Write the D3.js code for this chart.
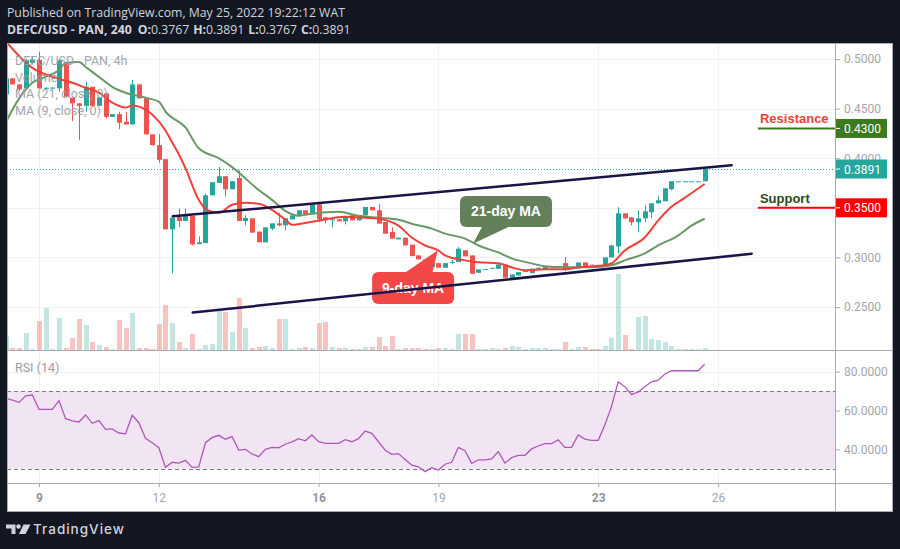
<!DOCTYPE html>
<html>
<head>
<meta charset="utf-8">
<script src="https://cdnjs.cloudflare.com/ajax/libs/d3/7.8.5/d3.min.js"></script>
<style>
    html, body { margin: 0; padding: 0; background: #131722; }
    svg { display: block; }
    text { font-family: Roboto, "Noto Sans", sans-serif; }
</style>
</head>
<body>
<svg id="chart" width="900" height="549"></svg>
<script>
// 4h bars, index 0 = May 9 00:00 UTC; the first bar on screen is index -5
const firstIndex = -5;
const opens = [
    .4643, .4805, .4744, .4704, .4960, .4990, .4700, .4705, .4704, .4960,
    .4610, .4553, .4528, .4720, .4528, .4653, .4417, .4444, .4367, .4340,
    .4744, .4603, .4240, .4131, .3990, .3283, .3407, .3367, .3417, .3134,
    .3144, .3626, .3751, .3818, .3687, .3800, .3367, .3394, .3260, .3152,
    .3290, .3343, .3323, .3384, .3417, .3475, .3434, .3535, .3404, .3374,
    .3384, .3364, .3424, .3374, .3424, .3508, .3475, .3357, .3256, .3182,
    .3199, .3128, .3020, .2980, .2902, .2942, .2896, .2950, .2953, .3071,
    .3020, .2845, .2875, .2885, .2886, .2929, .2795, .2818, .2855, .2842,
    .2892, .2879, .2902, .2908, .2942, .2896, .2889, .2949, .2926, .2925,
    .2909, .3000, .3111, .3444, .3404, .3354, .3394, .3455, .3545, .3566,
    .3687, .3767, .3767, .3767, .3767, .3767];
const highs = [
    .4805, .4805, .4744, .5000, .5030, .5074, .4715, .4715, .4995, .4965,
    .4610, .4553, .4771, .4720, .4613, .4653, .4444, .4468, .4468, .4788,
    .4744, .4603, .4240, .4242, .3990, .3401, .3492, .3492, .3417, .3212,
    .3646, .3758, .3912, .3818, .3768, .3879, .3424, .3394, .3260, .3303,
    .3343, .3447, .3394, .3424, .3475, .3475, .3535, .3556, .3404, .3384,
    .3384, .3414, .3424, .3424, .3508, .3508, .3535, .3357, .3303, .3199,
    .3199, .3128, .3020, .2980, .2942, .2942, .2942, .2975, .3104, .3071,
    .3020, .2879, .2885, .2895, .2929, .2929, .2828, .2852, .2862, .2886,
    .2899, .2909, .2908, .2915, .3003, .2902, .2949, .2949, .2926, .2925,
    .3000, .3121, .3505, .3444, .3404, .3475, .3525, .3545, .3616, .3697,
    .3767, .3767, .3767, .3767, .3767, .3891];
const lows = [
    .4643, .4744, .4677, .4704, .4950, .4704, .4690, .4700, .4670, .4620,
    .4374, .4182, .4468, .4528, .4528, .4400, .4417, .4293, .4340, .4340,
    .4603, .4240, .4131, .3953, .3283, .2841, .3306, .3367, .3121, .3134,
    .3144, .3626, .3751, .3613, .3687, .3367, .3323, .3250, .3152, .3152,
    .3273, .3313, .3273, .3384, .3417, .3430, .3434, .3354, .3343, .3303,
    .3364, .3333, .3374, .3374, .3424, .3475, .3340, .3239, .3189, .3182,
    .3121, .3013, .2980, .2902, .2902, .2896, .2896, .2935, .2953, .3010,
    .2835, .2845, .2875, .2885, .2886, .2795, .2795, .2818, .2855, .2842,
    .2890, .2879, .2902, .2905, .2862, .2896, .2889, .2909, .2922, .2922,
    .2909, .3000, .3040, .3384, .3323, .3253, .3354, .3394, .3545, .3566,
    .3677, .3767, .3767, .3767, .3767, .3767];
const closes = [
    .4805, .4744, .4694, .4990, .4995, .4704, .4710, .4712, .4985, .4620,
    .4553, .4528, .4720, .4528, .4613, .4417, .4444, .4357, .4340, .4744,
    .4603, .4240, .4131, .3984, .3283, .3401, .3367, .3417, .3131, .3152,
    .3626, .3758, .3818, .3687, .3768, .3367, .3397, .3250, .3152, .3303,
    .3343, .3323, .3394, .3424, .3475, .3430, .3535, .3384, .3374, .3384,
    .3364, .3414, .3374, .3424, .3508, .3475, .3340, .3239, .3189, .3199,
    .3121, .3013, .2980, .2902, .2942, .2896, .2942, .2955, .3088, .3010,
    .2835, .2879, .2882, .2895, .2929, .2795, .2828, .2852, .2862, .2886,
    .2896, .2909, .2905, .2912, .2876, .2902, .2949, .2909, .2922, .2922,
    .3000, .3121, .3444, .3394, .3354, .3394, .3465, .3545, .3576, .3697,
    .3767, .3767, .3767, .3767, .3767, .3891];
// volume in arbitrary units (pixel heights of the bars)
const volumes = [
    14, 2, 2, 17, 1, 29, 42, 1, 32, 2,
    12, 31, 25, 8, 5, 3, 1, 30, 22, 37,
    2, 2, 1, 26, 45, 27, 8, 2, 16, 1,
    5, 6, 39, 38, 18, 52, 22, 2, 3, 4,
    2, 31, 31, 1, 2, 3, 2, 27, 28, 3,
    2, 2, 1, 1, 3, 3, 13, 4, 14, 1,
    2, 2, 2, 1, 1, 2, 2, 1, 16, 16,
    16, 1, 1, 2, 1, 2, 4, 3, 1, 2,
    2, 2, 1, 1, 8, 1, 3, 3, 1, 1,
    4, 12, 76, 15, 1, 33, 34, 11, 10, 8,
    4, 1, 1, 1, 1, 2];
const rsiValues = [
    66.3, 65.3, 64.2, 67.6, 68.0, 60.6, 60.6, 60.6, 65.1, 55.8,
    54.6, 54.1, 57.7, 53.4, 54.8, 50.3, 50.5, 48.4, 48.0, 57.5,
    53.7, 45.7, 43.4, 40.8, 30.7, 33.3, 32.9, 34.3, 30.7, 30.9,
    43.4, 46.0, 47.2, 45.2, 46.5, 39.6, 40.0, 37.6, 36.2, 40.0,
    41.0, 40.8, 42.6, 43.8, 45.5, 44.4, 47.4, 43.9, 43.1, 43.1,
    43.1, 45.0, 43.9, 45.5, 49.4, 48.2, 43.9, 39.5, 37.4, 37.8,
    34.8, 31.8, 31.0, 28.5, 30.5, 29.3, 32.3, 33.3, 41.0, 39.3,
    32.8, 34.6, 34.6, 35.0, 38.8, 32.9, 35.7, 36.9, 36.9, 40.2,
    41.7, 42.9, 42.9, 44.9, 41.0, 41.0, 47.4, 45.3, 44.6, 44.6,
    52.5, 62.0, 74.8, 72.3, 68.3, 69.4, 72.3, 74.8, 75.6, 78.7,
    80.5, 80.5, 80.5, 80.5, 80.5, 83.8];
// moving averages as [bar index, price]
const ma9 = [[-5, .518], [-1, .491], [3, .480], [5, .476], [7, .471], [9, .466], [11, .456], [13, .451],
    [14, .453], [15, .452], [17, .444], [19, .428], [20, .416], [21, .404], [22, .390], [24, .358], [25, .349],
    [27, .345], [29, .353], [31, .355], [33, .354], [35, .348], [37, .338], [38, .333], [41, .336], [46, .341],
    [49, .340], [51, .339], [54, .332], [56, .320], [58, .312], [60, .307], [61, .302], [64, .297], [66, .295],
    [69, .294], [71, .290], [73, .287], [76, .288], [79, .288], [81, .290], [85, .292], [86, .294], [88, .307],
    [91, .320], [93, .337], [95, .351], [97, .360], [100, .374]];
const ma21 = [[-5, .436], [-3, .460], [-1, .476], [1, .482], [3, .489], [4, .496], [6, .497], [7, .492],
    [9, .482], [11, .472], [13, .466], [16, .461], [18, .457], [19, .447], [22, .431], [24, .410], [27, .400],
    [29, .391], [33, .368], [35, .358], [37, .347], [39, .342], [41, .344], [45, .346], [48, .342], [51, .340],
    [54, .338], [56, .334], [59, .329], [61, .324], [64, .319], [66, .312], [69, .305], [71, .299], [74, .294],
    [76, .291], [79, .290], [83, .290], [86, .292], [88, .297], [91, .304], [93, .312], [96, .322], [98, .332],
    [100, .339]];
// channel drawn by hand: [bar index, price] end points
const upperChannel = [[20.1, .3414], [104.05, .3929]];
const lowerChannel = [[23.1, .2444], [107.06, .3037]];
const resistance = 0.43;
const support = 0.35;
const priceTicks = [0.25, 0.30, 0.35, 0.40, 0.45, 0.50];
const rsiTicks = [40, 60, 80];
const dayTicks = [9, 12, 16, 19, 23, 26];
const boldDays = [9, 16, 23];

const lastIdx = opens.length - 1;
const fmt4 = d3.format('.4f');

const svg = d3.select('#chart');

// panel geometry
const panelLeft = 7, panelRight = 893, panelTop = 43, panelBottom = 512;
const axisX = 835;
const priceBottom = 350, rsiBottom = 483;

const x = d3.scaleUtc()
    .domain([Date.UTC(2022, 4, 9), Date.UTC(2022, 4, 26)])
    .range([39, 718]);
const barTime = i => new Date(Date.UTC(2022, 4, 9) + i * 4 * 3600 * 1000);
const xi = i => x(barTime(i));
const y = d3.scaleLinear().domain([0.25, 0.5]).range([307, 59]);
const yVol = d3.scaleLinear().domain([0, 80]).range([priceBottom, 270]);
const yRsi = d3.scaleLinear().domain([40, 80]).range([449.3, 371.7]);

const bars = opens.map((o, k) => ({
    i: k + firstIndex, o: o, h: highs[k], l: lows[k], c: closes[k], v: volumes[k], rsi: rsiValues[k]
}));

// background + white panel
svg.append('rect').attr('width', 900).attr('height', 549).attr('fill', '#131722');
svg.append('rect')
    .attr('x', panelLeft).attr('y', panelTop)
    .attr('width', panelRight - panelLeft).attr('height', panelBottom - panelTop)
    .attr('fill', '#ffffff');

const defs = svg.append('defs');
defs.append('clipPath').attr('id', 'clip-price')
    .append('rect').attr('x', panelLeft).attr('y', panelTop)
    .attr('width', axisX - panelLeft).attr('height', priceBottom - panelTop);
defs.append('clipPath').attr('id', 'clip-rsi')
    .append('rect').attr('x', panelLeft).attr('y', priceBottom)
    .attr('width', axisX - panelLeft).attr('height', rsiBottom - priceBottom);

// grid
const grid = svg.append('g').attr('stroke', '#eef0f3').attr('stroke-width', 1);
dayTicks.forEach(d => {
    const gx = Math.round(x(Date.UTC(2022, 4, d))) + 0.5;
    grid.append('line').attr('x1', gx).attr('x2', gx).attr('y1', panelTop).attr('y2', rsiBottom);
});
priceTicks.forEach(p => {
    const gy = Math.round(y(p)) + 0.5;
    grid.append('line').attr('x1', panelLeft).attr('x2', axisX).attr('y1', gy).attr('y2', gy);
});
rsiTicks.forEach(r => {
    const gy = Math.round(yRsi(r)) + 0.5;
    grid.append('line').attr('x1', panelLeft).attr('x2', axisX).attr('y1', gy).attr('y2', gy);
});

const up = '#26a69a', down = '#ef5350';
const pricePane = svg.append('g').attr('clip-path', 'url(#clip-price)');

// volume
pricePane.append('g').selectAll('rect')
    .data(bars)
    .join('rect')
    .attr('x', d => Math.round(xi(d.i)) - 2)
    .attr('width', 5)
    .attr('y', d => yVol(d.v))
    .attr('height', d => priceBottom - yVol(d.v))
    .attr('fill', d => d.c >= d.o ? 'rgba(38,166,154,0.28)' : 'rgba(239,83,80,0.35)');

// candles
const candle = pricePane.append('g').selectAll('g')
    .data(bars)
    .join('g')
    .attr('fill', d => d.c >= d.o ? up : down)
    .attr('stroke', d => d.c >= d.o ? up : down);
candle.append('line')
    .attr('x1', d => Math.round(xi(d.i)) + 0.5)
    .attr('x2', d => Math.round(xi(d.i)) + 0.5)
    .attr('y1', d => y(d.h))
    .attr('y2', d => y(d.l))
    .attr('stroke-width', 1);
candle.append('rect')
    .attr('stroke', 'none')
    .attr('x', d => Math.round(xi(d.i)) - 2)
    .attr('width', 5)
    .attr('y', d => y(Math.max(d.o, d.c)))
    .attr('height', d => Math.max(1, Math.abs(y(d.o) - y(d.c))));

// moving averages
const maLine = d3.line().x(d => xi(d[0])).y(d => y(d[1])).curve(d3.curveMonotoneX);
pricePane.append('path').datum(ma21).attr('d', maLine)
    .attr('fill', 'none').attr('stroke', '#6a9866').attr('stroke-width', 2);
pricePane.append('path').datum(ma9).attr('d', maLine)
    .attr('fill', 'none').attr('stroke', '#f23f3a').attr('stroke-width', 2);

// last price dotted line
const lastY = Math.round(y(closes[lastIdx])) + 0.5;
pricePane.append('line')
    .attr('x1', panelLeft).attr('x2', axisX).attr('y1', lastY).attr('y2', lastY)
    .attr('stroke', up).attr('stroke-dasharray', '1,2');

// callouts
const callouts = [
    {label: '21-day MA', fill: '#64805a', box: [70.15, .3463], w: 92, h: 31, tip: [65.2, .3138], base: [-23, 7], below: true},
    {label: '9-day MA', fill: '#f44848', box: [56.2, .2692], w: 82, h: 32, tip: [59.9, .3071], base: [-10, 19], below: false}
];
callouts.forEach(c => {
    const bx = xi(c.box[0]), by = y(c.box[1]);
    const edge = c.below ? by + c.h / 2 - 2 : by - c.h / 2 + 2;
    pricePane.append('rect')
        .attr('x', bx - c.w / 2).attr('y', by - c.h / 2)
        .attr('width', c.w).attr('height', c.h).attr('rx', 6)
        .attr('fill', c.fill);
    pricePane.append('path')
        .attr('d', `M${bx + c.base[0]},${edge}L${xi(c.tip[0])},${y(c.tip[1])}L${bx + c.base[1]},${edge}Z`)
        .attr('fill', c.fill);
    pricePane.append('text')
        .attr('x', bx).attr('y', by + 5)
        .attr('text-anchor', 'middle')
        .style('font-family', '"Liberation Sans", Arial, sans-serif')
        .style('font-weight', 'bold')
        .style('font-size', '14px')
        .attr('fill', '#ffffff')
        .text(c.label);
});

// channel lines
[upperChannel, lowerChannel].forEach(seg => {
    pricePane.append('line')
        .attr('x1', xi(seg[0][0])).attr('y1', y(seg[0][1]))
        .attr('x2', xi(seg[1][0])).attr('y2', y(seg[1][1]))
        .attr('stroke', '#1b1446').attr('stroke-width', 2.5).attr('stroke-linecap', 'round');
});

// resistance / support marks next to the price axis
const levelStart = xi(108);
[
    {value: resistance, text: 'Resistance', line: '#3b7a1e', textColor: '#f2403a'},
    {value: support, text: 'Support', line: '#ff0000', textColor: '#2b4a17'}
].forEach(l => {
    svg.append('line')
        .attr('x1', levelStart).attr('x2', axisX)
        .attr('y1', y(l.value)).attr('y2', y(l.value))
        .attr('stroke', l.line).attr('stroke-width', 2);
    svg.append('text')
        .attr('x', levelStart + 2).attr('y', y(l.value) - 5)
        .style('font-family', '"Liberation Sans", Arial, sans-serif')
        .style('font-weight', 'bold').style('font-size', '13px')
        .attr('fill', l.textColor)
        .text(l.text);
});

// legend of the price pane
const legend = ['DEFC/USD - PAN, 4h', 'Volume', 'MA (21, close, 0)', 'MA (9, close, 0)'];
svg.append('g').selectAll('text')
    .data(legend)
    .join('text')
    .attr('x', 15)
    .attr('y', (d, k) => 65 + k * 16.7)
    .style('font-size', '12.5px')
    .attr('fill', '#9a9da5')
    .attr('opacity', 0.9)
    .text(d => d);

// RSI pane
const rsiPane = svg.append('g').attr('clip-path', 'url(#clip-rsi)');
rsiPane.append('rect')
    .attr('x', panelLeft).attr('width', axisX - panelLeft)
    .attr('y', yRsi(70)).attr('height', yRsi(30) - yRsi(70))
    .attr('fill', '#f1e5f3');
[70, 30].forEach(r => {
    rsiPane.append('line')
        .attr('x1', panelLeft).attr('x2', axisX)
        .attr('y1', Math.round(yRsi(r)) + 0.5).attr('y2', Math.round(yRsi(r)) + 0.5)
        .attr('stroke', '#787b86').attr('stroke-dasharray', '4,3');
});
rsiPane.append('path').datum(bars)
    .attr('d', d3.line().x(d => xi(d.i)).y(d => yRsi(d.rsi)))
    .attr('fill', 'none').attr('stroke', '#b157ba').attr('stroke-width', 1.3);
svg.append('text')
    .attr('x', 15).attr('y', 372)
    .style('font-size', '12.5px')
    .attr('fill', '#9a9da5')
    .text('RSI (14)');

// separators and border
const sep = svg.append('g').attr('stroke', '#a8abb3').attr('stroke-width', 1);
sep.append('line').attr('x1', panelLeft).attr('x2', panelRight).attr('y1', priceBottom + 0.5).attr('y2', priceBottom + 0.5);
sep.append('line').attr('x1', panelLeft).attr('x2', panelRight).attr('y1', rsiBottom + 0.5).attr('y2', rsiBottom + 0.5);
sep.append('line').attr('x1', axisX + 0.5).attr('x2', axisX + 0.5).attr('y1', panelTop).attr('y2', panelBottom);
sep.append('rect').attr('x', panelLeft + 0.5).attr('y', panelTop + 0.5)
    .attr('width', panelRight - panelLeft - 1).attr('height', panelBottom - panelTop - 1).attr('fill', 'none');

// price axis
const styleAxis = g => {
    g.select('.domain').remove();
    g.selectAll('line').attr('stroke', '#a8abb3');
    g.selectAll('text').attr('fill', '#a3a6ae').style('font-size', '12px');
};
svg.append('g')
    .attr('transform', `translate(${axisX},0)`)
    .call(d3.axisRight(y).tickValues(priceTicks).tickFormat(fmt4).tickSize(5).tickPadding(4))
    .call(styleAxis);
svg.append('g')
    .attr('transform', `translate(${axisX},0)`)
    .call(d3.axisRight(yRsi).tickValues(rsiTicks).tickFormat(fmt4).tickSize(5).tickPadding(4))
    .call(styleAxis);

// time axis
svg.append('g')
    .attr('transform', `translate(0,${rsiBottom})`)
    .call(d3.axisBottom(x).tickValues(dayTicks.map(d => new Date(Date.UTC(2022, 4, d)))).tickFormat(d3.utcFormat('%-d')).tickSize(4).tickPadding(6))
    .call(styleAxis)
    .call(g => g.selectAll('text')
        .style('font-weight', d => boldDays.includes(d.getUTCDate()) ? 'bold' : 'normal')
        .attr('fill', d => boldDays.includes(d.getUTCDate()) ? '#8f929a' : '#a3a6ae'));

// coloured labels on the price axis
[
    {value: resistance, bg: '#3b7a1e'},
    {value: closes[lastIdx], bg: up},
    {value: support, bg: '#ff0000'}
].forEach(l => {
    const ly = y(l.value);
    svg.append('rect').attr('x', axisX + 1).attr('y', ly - 9.5).attr('width', 51).attr('height', 19).attr('fill', l.bg);
    svg.append('line').attr('x1', axisX + 1).attr('x2', axisX + 5).attr('y1', ly).attr('y2', ly).attr('stroke', '#ffffff');
    svg.append('text')
        .attr('x', axisX + 9).attr('y', ly + 4.5)
        .style('font-size', '12px')
        .attr('fill', '#ffffff')
        .text(fmt4(l.value));
});

// header
svg.append('text')
    .attr('x', 7).attr('y', 17)
    .style('font-family', '"Open Sans", sans-serif').style('font-size', '12.25px')
    .attr('fill', '#d1d4dc')
    .text('Published on TradingView.com, May 25, 2022 19:22:12 WAT');
const header = svg.append('text')
    .attr('x', 7).attr('y', 34)
    .style('font-family', '"Open Sans", sans-serif').style('font-size', '12.25px')
    .attr('fill', '#d1d4dc');
[
    ['DEFC/USD - PAN, 240', true, 0],
    ['O:', true, 6], [fmt4(opens[lastIdx]), false, 0],
    ['H:', true, 4], [fmt4(highs[lastIdx]), false, 0],
    ['L:', true, 4], [fmt4(lows[lastIdx]), false, 0],
    ['C:', true, 4], [fmt4(closes[lastIdx]), false, 0]
].forEach(p => {
    header.append('tspan').attr('dx', p[2]).style('font-weight', p[1] ? 'bold' : 'normal').text(p[0]);
});

// TradingView logo
const logo = svg.append('g').attr('fill', '#d1d4dc');
logo.append('path').attr('d', 'M6,524.5h9.5v9.5h-4v-5.5h-5.5z');
logo.append('circle').attr('cx', 18.5).attr('cy', 526.5).attr('r', 2.2);
logo.append('path').attr('d', 'M23.5,524.5h7l-5,9.5h-6.5z');
logo.append('text')
    .attr('x', 33).attr('y', 534)
    .style('font-family', 'Inter, Roboto, sans-serif').style('font-weight', 500)
    .style('font-size', '13.5px').style('letter-spacing', '1px')
    .text('TradingView');
</script>
</body>
</html>
